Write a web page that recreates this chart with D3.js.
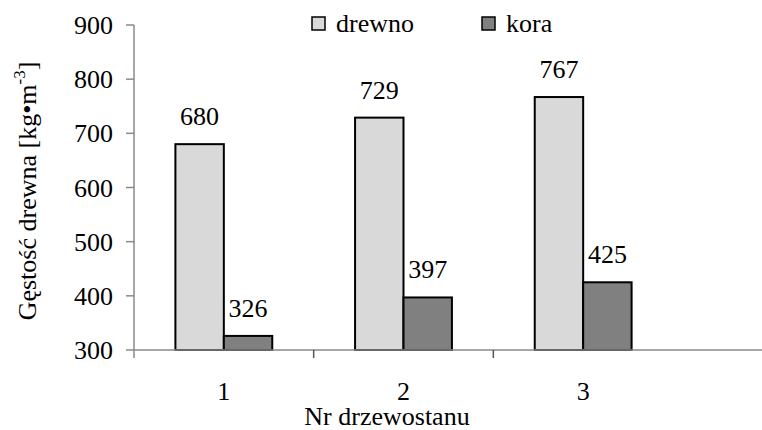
<!DOCTYPE html>
<html>
<head>
<meta charset="utf-8">
<script src="https://cdn.jsdelivr.net/npm/d3@7"></script>
</head>
<body style="margin:0">
<svg id="chart" width="762" height="430"></svg>
<script>
// Wood and bark density per stand
const stands = ["1", "2", "3"];
const seriesNames = ["drewno", "kora"];
const drewno = [680, 729, 767];
const kora = [326, 397, 425];
const yTicks = [300, 400, 500, 600, 700, 800, 900];
const seriesColors = ["#d9d9d9", "#808080"];

const FS = 26;
const values = { drewno, kora };
const rows = stands.map((s, i) => ({ stand: s, items: seriesNames.map(n => ({ key: n, value: values[n][i] })) }));

const svg = d3.select("#chart");
const W = 762, H = 430;
const m = { left: 134, top: 25, right: 89, bottom: 80 };
const plotRight = W - m.right;   // right edge of the category bands
const plotBottom = H - m.bottom; // y of the baseline (300)

const x0 = d3.scaleBand().domain(stands).range([m.left, plotRight]).padding(0);
const x1 = d3.scaleBand().domain(seriesNames).range([0, x0.bandwidth()]).paddingInner(0).paddingOuter(0.855);
const y = d3.scaleLinear().domain([300, 900]).range([plotBottom, m.top]);
const color = d3.scaleOrdinal().domain(seriesNames).range(seriesColors);

const axisColor = "#8a8a8a";

// Shared text styling
function label(sel) {
  return sel.attr("font-family", "Liberation Serif").attr("font-size", FS);
}

// Bars
const groups = svg.append("g").selectAll("g").data(rows).join("g")
  .attr("transform", d => `translate(${x0(d.stand)},0)`);

groups.selectAll("rect").data(d => d.items).join("rect")
  .attr("x", d => x1(d.key))
  .attr("y", d => y(d.value))
  .attr("width", x1.bandwidth())
  .attr("height", d => y(300) - y(d.value))
  .attr("fill", d => color(d.key))
  .attr("stroke", "#000")
  .attr("stroke-width", 2);

// Value labels
groups.selectAll("text.val").data(d => d.items).join("text")
  .attr("class", "val")
  .attr("x", d => x1(d.key) + x1.bandwidth() / 2)
  .attr("y", d => y(d.value) - 19)
  .attr("text-anchor", "middle")
  .call(label)
  .text(d => d.value);

// Y axis: line, ticks and labels from the linear scale
const yAxis = svg.append("g");
yAxis.append("line")
  .attr("x1", m.left).attr("x2", m.left)
  .attr("y1", y(900)).attr("y2", plotBottom + 8)
  .attr("stroke", axisColor).attr("stroke-width", 1.5);
yAxis.selectAll("line.tick").data(yTicks).join("line")
  .attr("class", "tick")
  .attr("x1", m.left - 8).attr("x2", m.left)
  .attr("y1", d => y(d)).attr("y2", d => y(d))
  .attr("stroke", axisColor).attr("stroke-width", 1.5);
yAxis.selectAll("text").data(yTicks).join("text")
  .attr("x", m.left - 21)
  .attr("y", d => y(d) + 9)
  .attr("text-anchor", "end")
  .call(label)
  .text(d => d);

// X axis
const xAxis = svg.append("g");
xAxis.append("line")
  .attr("x1", m.left).attr("x2", W)
  .attr("y1", plotBottom).attr("y2", plotBottom)
  .attr("stroke", axisColor).attr("stroke-width", 1.5);
xAxis.selectAll("line.sep").data(stands.slice(1)).join("line")
  .attr("class", "sep")
  .attr("x1", d => x0(d)).attr("x2", d => x0(d))
  .attr("y1", plotBottom).attr("y2", plotBottom + 8)
  .attr("stroke", "#555").attr("stroke-width", 1.5);
xAxis.selectAll("text.cat").data(stands).join("text")
  .attr("class", "cat")
  .attr("x", d => x0(d) + x0.bandwidth() / 2)
  .attr("y", plotBottom + 50)
  .attr("text-anchor", "middle")
  .call(label)
  .text(d => d);

// Axis titles
svg.append("text")
  .attr("x", 387).attr("y", 425)
  .attr("text-anchor", "middle")
  .call(label)
  .text("Nr drzewostanu");

const yTitle = svg.append("text")
  .attr("transform", "translate(36,191) rotate(-90)")
  .attr("text-anchor", "middle")
  .call(label);
yTitle.append("tspan").text("Gęstość drewna [kg\u2022m");
yTitle.append("tspan").attr("font-size", 17).attr("dy", -11).text("-3");
yTitle.append("tspan").attr("dy", 11).text("]");

// Legend
const legendX = [312, 482];
const legend = svg.append("g").selectAll("g").data(seriesNames).join("g")
  .attr("transform", (d, i) => `translate(${legendX[i]},17)`);
legend.append("rect")
  .attr("width", 13).attr("height", 13)
  .attr("fill", d => color(d))
  .attr("stroke", "#000").attr("stroke-width", 1.5);
legend.append("text")
  .attr("x", 24).attr("y", 15)
  .call(label)
  .text(d => d);
</script>
</body>
</html>
